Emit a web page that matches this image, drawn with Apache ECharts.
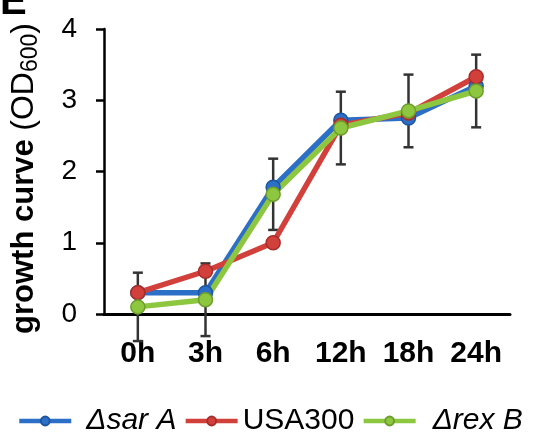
<!DOCTYPE html>
<html><head><meta charset="utf-8">
<script src="https://cdn.jsdelivr.net/npm/echarts@6/dist/echarts.min.js"></script>
<style>html,body{margin:0;padding:0;background:#fff}#c{width:537px;height:436px}</style>
</head><body><div id="c"></div>
<script>
const categories = ['0h','3h','6h','12h','18h','24h'];
const sarA = [0.30, 0.30, 1.78, 2.72, 2.75, 3.20];
const usa300 = [0.30, 0.60, 1.00, 2.65, 2.82, 3.33];
const rexB = [0.10, 0.20, 1.68, 2.61, 2.85, 3.13];
const rexBErr = [0.48, 0.51, 0.50, 0.51, 0.51, 0.51];
const yTicks = [0, 1, 2, 3, 4];

const F = '"Liberation Sans", Arial, sans-serif';
const chart = echarts.init(document.getElementById('c'), null, {renderer:'canvas'});

function lineSeries(name, data, color, border){
  return {
    name, type:'line', data, symbol:'circle', symbolSize:14,
    lineStyle:{color, width:5.5},
    itemStyle:{color, borderColor:border, borderWidth:1.5},
    emphasis:{disabled:true}, z:3
  };
}

chart.setOption({
  animation:false,
  textStyle:{fontFamily:F},
  grid:{left:100, right:27, top:29, bottom:122},
  xAxis:{
    type:'category', data:categories, boundaryGap:true,
    axisLine:{lineStyle:{color:'#000', width:3}},
    axisTick:{show:false},
    axisLabel:{color:'#000', fontWeight:'bold', fontSize:30, margin:25, fontFamily:F}
  },
  yAxis:{
    type:'value', min:0, max:4, interval:1,
    splitLine:{show:false},
    axisLine:{show:true, lineStyle:{color:'#000', width:2.5}},
    axisTick:{show:true, length:8, lineStyle:{color:'#000', width:2.5}},
    axisLabel:{color:'#000', fontSize:28, margin:27, fontFamily:F,
      formatter:v => yTicks.includes(v) ? String(v) : ''},
    name:'{b|growth curve }{n|(OD}{s|600}{n|)}',
    nameLocation:'middle', nameGap:62, nameRotate:90,
    nameTextStyle:{
      padding:[0,14,0,0],
      rich:{
        b:{fontSize:31, fontWeight:'bold', color:'#000', fontFamily:F},
        n:{fontSize:32, color:'#000', fontFamily:F},
        s:{fontSize:23, color:'#000', fontFamily:F, padding:[13,0,0,0]}
      }
    }
  },
  legend:{
    top:401, left:12, itemWidth:52, itemHeight:11, itemGap:7,
    lineStyle:{width:4.5},
    data:['sarA','USA300','rexB'],
    formatter: n => n==='sarA' ? '{i|Δsar A}{g|}' : n==='rexB' ? '{j|Δrex B}' : '{r|USA300}',
    textStyle:{
      color:'#000', fontSize:30, fontFamily:F,
      rich:{
        i:{fontStyle:'italic', fontSize:30, color:'#000', fontFamily:F, padding:[0,0,0,10]},
        g:{width:8},
        j:{fontStyle:'italic', fontSize:30, color:'#000', fontFamily:F, padding:[0,0,0,12]},
        r:{fontSize:30, color:'#000', fontFamily:F}
      }
    }
  },
  graphic:[{type:'text', left:0, top:-17, style:{text:'E', font:'bold 40px '+F, fill:'#000'}}],
  series:[
    {
      type:'custom', name:'err', z:1, silent:true,
      data: categories.map((c,i)=>[i, rexB[i]-rexBErr[i], rexB[i]+rexBErr[i]]),
      renderItem:(params, api)=>{
        const lo = api.coord([api.value(0), api.value(1)]);
        const hi = api.coord([api.value(0), api.value(2)]);
        const x = lo[0], hw = 5;
        const st = {stroke:'#333', lineWidth:2.5};
        return {type:'group', children:[
          {type:'line', shape:{x1:x, y1:lo[1], x2:x, y2:hi[1]}, style:st},
          {type:'line', shape:{x1:x-hw, y1:lo[1], x2:x+hw, y2:lo[1]}, style:st},
          {type:'line', shape:{x1:x-hw, y1:hi[1], x2:x+hw, y2:hi[1]}, style:st}
        ]};
      }
    },
    lineSeries('sarA', sarA, '#2c6fc7', '#1d55a0'),
    lineSeries('USA300', usa300, '#d2403c', '#a82d2a'),
    lineSeries('rexB', rexB, '#8dc63f', '#6d9e2c')
  ]
});
</script></body></html>
